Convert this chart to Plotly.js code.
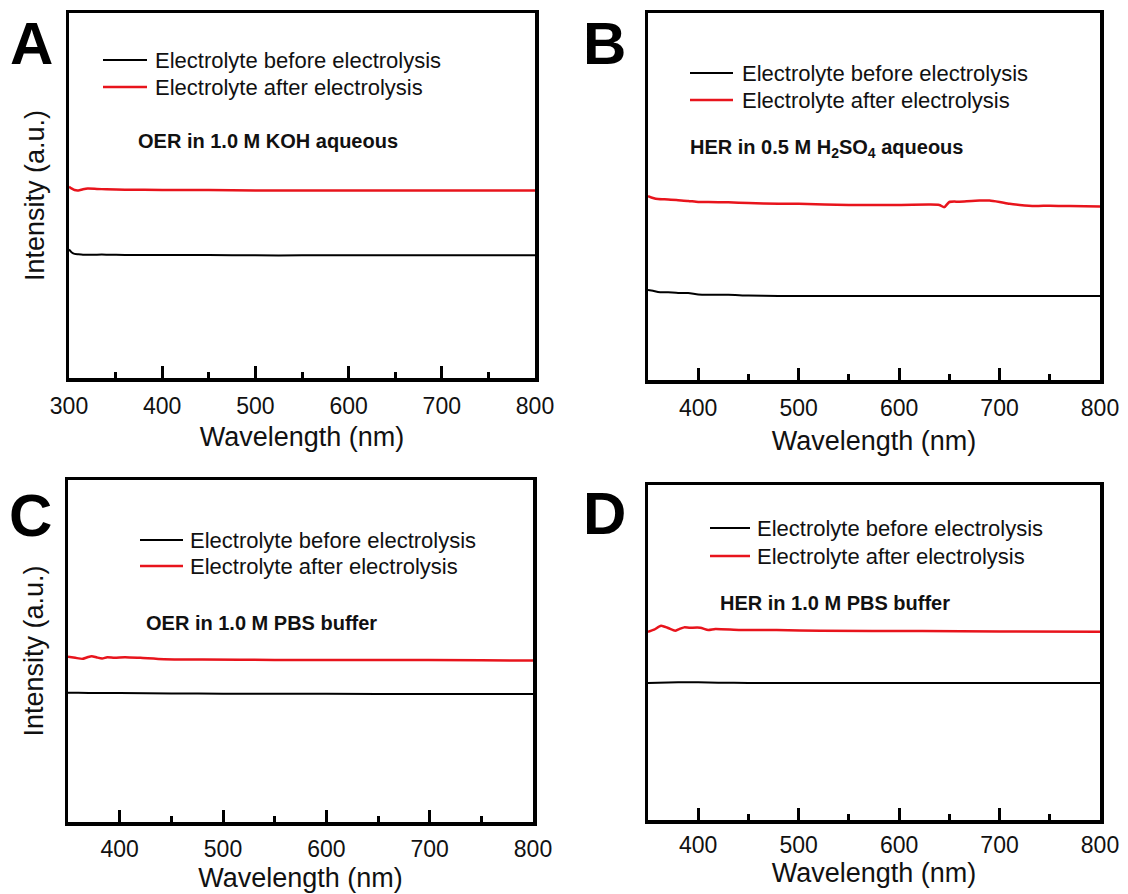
<!DOCTYPE html>
<html>
<head>
<meta charset="utf-8">
<script src="https://cdn.plot.ly/plotly-3.0.1.min.js"></script>
<style>html,body{margin:0;padding:0;background:#fff;}#chart{width:1128px;height:894px;}</style>
</head>
<body>
<div id="chart"></div>
<script>
// ---- Data (normalized intensity, a.u.) ----
const seriesNames = ["Electrolyte before electrolysis", "Electrolyte after electrolysis"];
const panelLabels = ["A", "B", "C", "D"];
const panelNotes = ["OER in 1.0 M KOH aqueous", "HER in 0.5 M H<sub>2</sub>SO<sub>4</sub> aqueous", "OER in 1.0 M PBS buffer", "HER in 1.0 M PBS buffer"];
const xTitle = "Wavelength (nm)";
const yTitle = "Intensity (a.u.)";

// Panel A
const wlA = [300,303,306,310,315,320,330,340,360,400,450,500,550,600,650,700,750,800];
const beforeA = [0.352,0.344,0.340,0.339,0.338,0.338,0.338,0.338,0.337,0.337,0.337,0.336,0.336,0.336,0.336,0.336,0.336,0.336];
const afterA = [0.524,0.519,0.515,0.514,0.517,0.519,0.518,0.517,0.516,0.515,0.515,0.514,0.514,0.514,0.514,0.514,0.514,0.514];

// Panel B
const wlB = [350,355,360,370,380,390,400,410,430,450,480,500,550,600,630,640,645,650,660,680,690,700,710,720,735,750,770,800];
const beforeB = [0.245,0.243,0.240,0.239,0.237,0.237,0.233,0.232,0.232,0.230,0.229,0.229,0.229,0.229,0.229,0.229,0.229,0.229,0.229,0.229,0.229,0.229,0.229,0.229,0.229,0.229,0.229,0.229];
const afterB = [0.501,0.496,0.493,0.492,0.490,0.488,0.485,0.485,0.484,0.482,0.480,0.480,0.477,0.477,0.478,0.477,0.471,0.485,0.486,0.489,0.489,0.485,0.480,0.477,0.474,0.475,0.474,0.473];

// Panel C
const wlCbefore = [350,360,380,400,450,500,600,700,800];
const beforeC = [0.378,0.378,0.377,0.377,0.376,0.375,0.375,0.374,0.374];
const wlCafter = [350,357,364,368,373,378,383,388,395,405,420,443,480,550,650,750,800];
const afterC = [0.483,0.480,0.477,0.481,0.485,0.481,0.478,0.482,0.480,0.482,0.480,0.476,0.475,0.474,0.474,0.473,0.472];

// Panel D
const wlDbefore = [350,360,380,400,420,450,500,600,700,800];
const beforeD = [0.409,0.410,0.411,0.411,0.410,0.409,0.409,0.409,0.409,0.409];
const wlDafter = [350,356,363,370,377,381,386,391,402,410,417,442,478,522,623,700,800];
const afterD = [0.562,0.568,0.580,0.573,0.565,0.570,0.575,0.574,0.574,0.567,0.570,0.567,0.567,0.565,0.564,0.563,0.562];

// ---- Layout helpers ----
const W = 1128, H = 894;
const px = v => v / W;
const py = v => 1 - v / H;
const FONT = "Liberation Sans, Arial, sans-serif";
const BLACK = "#000000";
const RED = "#e8141c";
const TXT = "#111111";

// plot boxes in pixels [left, right, top, bottom]
const boxes = [[69,535,13,378],[648,1100,13,380],[68,533,480,822],[648,1100,485,820]];
const xRanges = [[300,800],[350,800],[350,800],[350,800]];
const labelStandoff = [5, 5, 4, 2];
const xStandoff = [10, 12, 8, 3];

const layout = {
  width: W, height: H,
  margin: {l:0, r:0, t:0, b:0},
  paper_bgcolor: "#fff", plot_bgcolor: "#fff",
  font: {family: FONT, color: TXT},
  showlegend: false,
  annotations: [],
  shapes: []
};

const suffix = ["", "2", "3", "4"];
boxes.forEach((b, i) => {
  const s = suffix[i];
  layout["xaxis" + s] = {
    domain: [px(b[0]), px(b[1])], anchor: "y" + s, range: xRanges[i],
    showline: true, linewidth: 3.5, linecolor: BLACK, mirror: true,
    ticks: "inside", ticklen: 12, tickwidth: 3, tickcolor: BLACK,
    tick0: 0, dtick: 100, ticklabelstandoff: labelStandoff[i],
    minor: {ticks: "inside", ticklen: 6, tickwidth: 3, tickcolor: BLACK, tick0: 0, dtick: 50, showgrid: false},
    showgrid: false, zeroline: false, fixedrange: true,
    tickfont: {family: FONT, size: 23, color: TXT},
    title: {text: xTitle, font: {family: FONT, size: 27, color: TXT}, standoff: xStandoff[i]},
    automargin: false
  };
  const yax = {
    domain: [py(b[3]), py(b[2])], anchor: "x" + s, range: [0, 1],
    showline: true, linewidth: 3.5, linecolor: BLACK, mirror: true,
    ticks: "", showticklabels: false, showgrid: false, zeroline: false, fixedrange: true,
    automargin: false
  };
  if (i === 0 || i === 2) {
    yax.title = {text: yTitle, font: {family: FONT, size: 27, color: TXT}, standoff: 14};
  }
  layout["yaxis" + s] = yax;
});

// legends drawn as line samples + labels: [lineStart, lineEnd, textStart, yBefore, yAfter]
const legendPos = [[103,147,153,60,87],[690,733,740,73,100],[140,183,188,540,566],[710,750,755,528,556]];
legendPos.forEach((p) => {
  [[p[3], BLACK, 2, seriesNames[0]], [p[4], RED, 2.5, seriesNames[1]]].forEach(([yy, col, w, name]) => {
    layout.shapes.push({
      type: "line", xref: "paper", yref: "paper",
      x0: px(p[0]), x1: px(p[1]), y0: py(yy), y1: py(yy),
      line: {color: col, width: w}
    });
    layout.annotations.push({
      xref: "paper", yref: "paper", x: px(p[2]), y: py(yy),
      xanchor: "left", yanchor: "middle", showarrow: false,
      text: name, font: {family: FONT, size: 22, color: TXT}
    });
  });
});

// panel letters
const letterPos = [[31, 44], [604, 44], [30, 515], [604, 513]];
letterPos.forEach((p, i) => {
  layout.annotations.push({
    xref: "paper", yref: "paper", x: px(p[0]), y: py(p[1]),
    xanchor: "center", yanchor: "middle", showarrow: false,
    text: "<b>" + panelLabels[i] + "</b>",
    font: {family: FONT, size: 60, color: "#000"}
  });
});

// notes
const notePos = [[136, 141], [688, 148], [144, 623], [718, 603]];
notePos.forEach((p, i) => {
  layout.annotations.push({
    xref: "paper", yref: "paper", x: px(p[0]), y: py(p[1]),
    xanchor: "left", yanchor: "middle", showarrow: false,
    text: "<b>" + panelNotes[i] + "</b>",
    font: {family: FONT, size: 20, color: TXT}
  });
});

function line(x, y, color, width, i, name) {
  return {
    x: x, y: y, type: "scatter", mode: "lines", name: name,
    line: {color: color, width: width, shape: "spline", smoothing: 0.6},
    xaxis: "x" + suffix[i], yaxis: "y" + suffix[i],
    hoverinfo: "skip"
  };
}

const data = [
  line(wlA, beforeA, BLACK, 2, 0, seriesNames[0]),
  line(wlA, afterA, RED, 2.5, 0, seriesNames[1]),
  line(wlB, beforeB, BLACK, 2, 1, seriesNames[0]),
  line(wlB, afterB, RED, 2.5, 1, seriesNames[1]),
  line(wlCbefore, beforeC, BLACK, 2, 2, seriesNames[0]),
  line(wlCafter, afterC, RED, 2.5, 2, seriesNames[1]),
  line(wlDbefore, beforeD, BLACK, 2, 3, seriesNames[0]),
  line(wlDafter, afterD, RED, 2.5, 3, seriesNames[1])
];

Plotly.newPlot("chart", data, layout, {displayModeBar: false, staticPlot: true});
</script>
</body>
</html>
